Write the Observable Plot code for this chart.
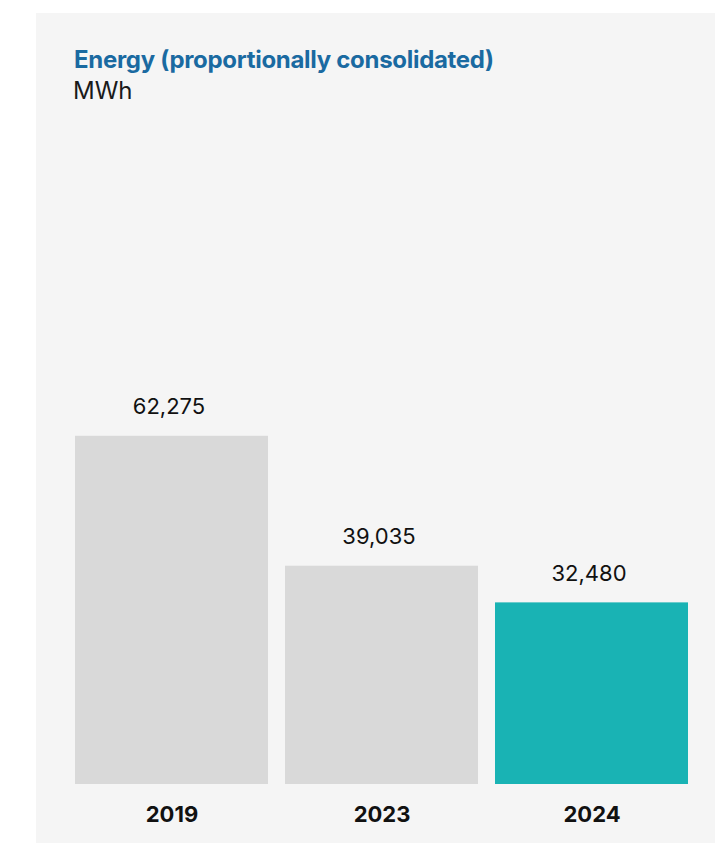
<!DOCTYPE html>
<html>
<head>
<meta charset="utf-8">
<script src="https://cdn.jsdelivr.net/npm/d3@7"></script>
<script src="https://cdn.jsdelivr.net/npm/@observablehq/plot@0.6"></script>
<style>
  html, body { margin: 0; padding: 0; background: #ffffff; }
  body { width: 715px; height: 843px; position: relative; overflow: hidden; font-family: Inter, "Noto Sans", sans-serif; }
  #panel { position: absolute; left: 36px; top: 13px; width: 679px; height: 830px; background: #f5f5f5; }
  #title { position: absolute; left: 38px; top: 32px; font-size: 24px; line-height: 29px; font-weight: 700; color: #1a6aa1; letter-spacing: -0.3px; white-space: nowrap; }
  #subtitle { position: absolute; left: 37px; top: 63px; font-size: 24px; line-height: 29px; font-weight: 400; color: #1a1a1a; white-space: nowrap; }
  #chart { position: absolute; left: 0; top: 0; }
</style>
</head>
<body>
<div id="panel">
  <div id="title">Energy (proportionally consolidated)</div>
  <div id="subtitle">MWh</div>
  <div id="chart"></div>
</div>
<script>
const years = ["2019", "2023", "2024"];
const values = [62275, 39035, 32480];
const barColors = ["#d9d9d9", "#d9d9d9", "#19b3b4"];

const data = years.map((y, i) => ({year: y, value: values[i], color: barColors[i]}));

const chart = Plot.plot({
  width: 679,
  height: 830,
  marginLeft: 37.5,
  marginRight: 25.5,
  marginTop: 100,
  marginBottom: 59,
  style: {background: "transparent", fontFamily: "Inter, 'Noto Sans', sans-serif", color: "#111"},
  x: {domain: years, paddingInner: 0.08, paddingOuter: 0, label: null},
  y: {domain: [0, 120000], axis: null},
  marks: [
    Plot.barY(data, {x: "year", y: "value", fill: "color"}),
    Plot.text(data, {x: "year", y: "value", text: d => d3.format(",")(d.value), lineAnchor: "bottom", dx: -3, dy: -22, fontSize: 22, fill: "#111"}),
    Plot.axisX({tickSize: 0, tickPadding: 22, fontSize: 22, fontWeight: 700, label: null, fill: "#111"})
  ]
});
document.getElementById("chart").appendChild(chart);
</script>
</body>
</html>
